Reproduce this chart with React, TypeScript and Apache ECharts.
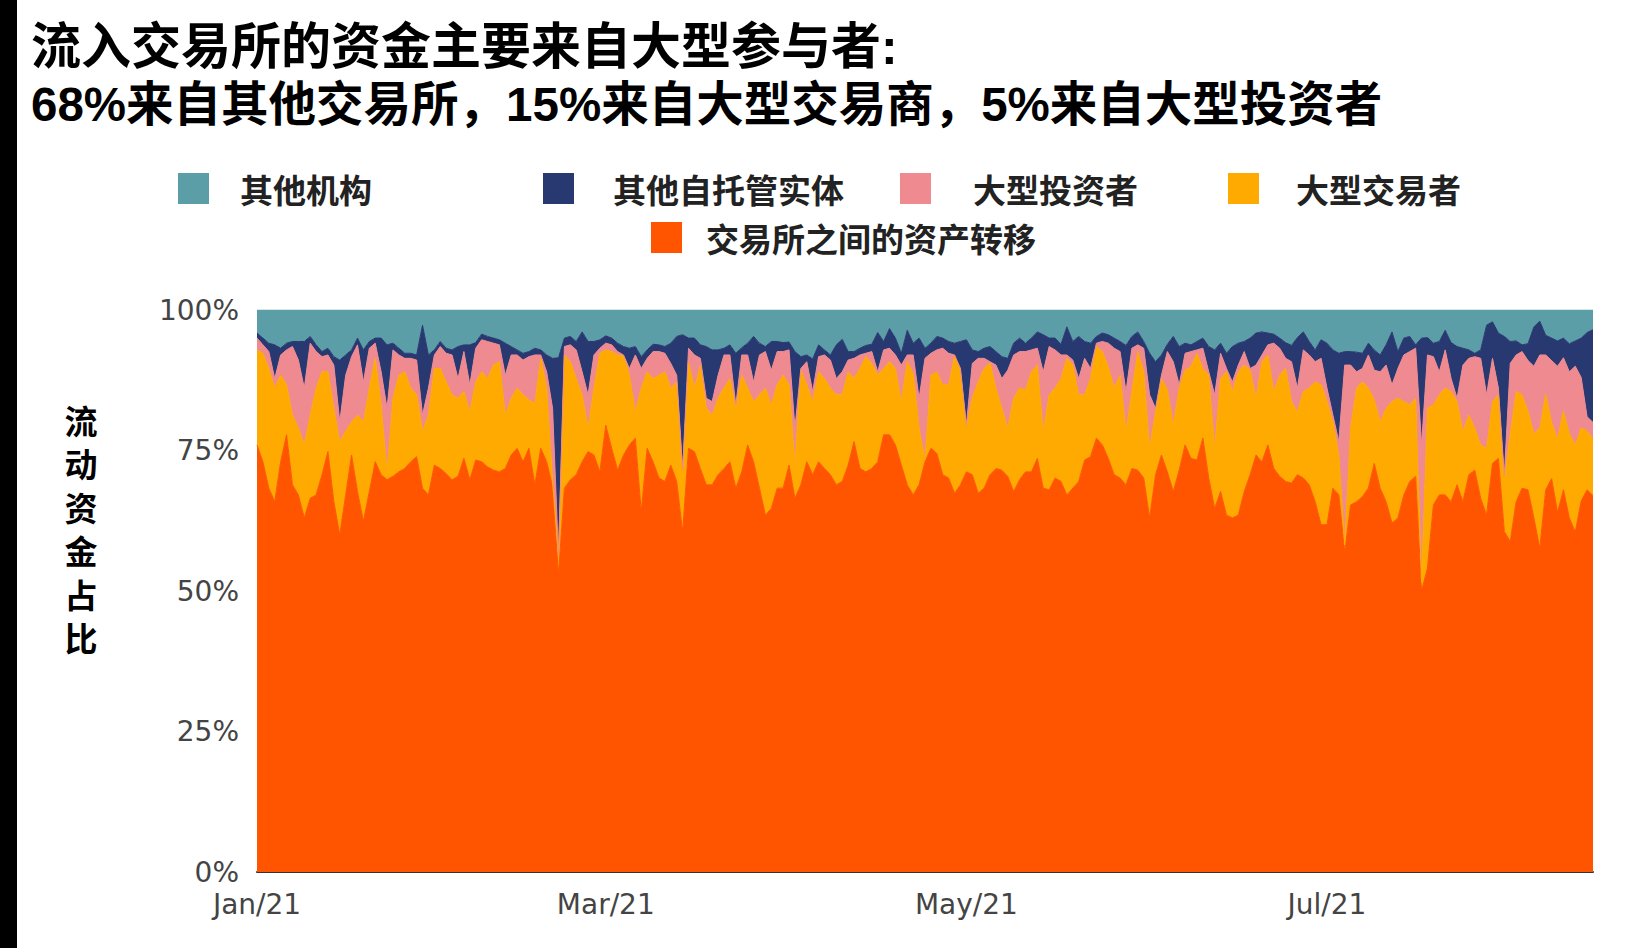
import { useEffect, useRef } from "react";
import * as echarts from "echarts";

// Cumulative tops (percent of daily inflow), Jan 1 2021 onward, one value per day.
// Top of "交易所之间的资产转移" (orange, bottom layer) = its own share
const exchangeShare = [
  76.0, 73.0, 68.3, 65.9, 73.0, 77.8, 68.9, 67.1, 63.0, 66.5,
  67.1, 70.7, 74.8, 65.9, 60.0, 67.1, 74.2, 67.7, 62.4, 67.7,
  73.0, 70.7, 69.8, 70.4, 71.2, 71.8, 73.0, 73.9, 68.3, 67.1,
  72.4, 71.8, 70.9, 69.8, 70.4, 73.6, 69.8, 73.3, 73.0, 72.1,
  71.5, 71.2, 71.8, 74.2, 75.4, 73.0, 75.4, 68.9, 75.4, 73.0,
  68.6, 52.9, 68.3, 69.8, 70.7, 73.0, 74.8, 74.2, 71.2, 79.5,
  75.4, 71.5, 74.2, 76.0, 77.2, 64.1, 75.4, 73.0, 70.1, 69.5,
  72.4, 69.5, 60.5, 75.4, 74.8, 71.8, 68.9, 68.9, 70.7, 71.8,
  73.0, 68.3, 71.2, 76.0, 73.0, 68.3, 63.5, 64.7, 68.3, 68.3,
  72.4, 66.5, 68.9, 73.0, 70.7, 73.0, 71.8, 70.7, 68.9, 69.5,
  72.4, 76.6, 71.8, 71.2, 71.8, 73.0, 77.8, 77.8, 76.0, 72.4,
  68.9, 67.1, 68.9, 73.0, 75.4, 74.5, 70.7, 70.1, 67.4, 68.9,
  71.2, 70.7, 67.4, 68.3, 70.7, 71.8, 71.5, 70.4, 67.7, 69.8,
  71.2, 71.2, 73.6, 68.3, 68.0, 70.1, 69.5, 67.1, 68.3, 69.5,
  73.3, 73.9, 77.2, 76.0, 73.6, 70.7, 70.1, 68.9, 71.8, 71.5,
  70.1, 63.0, 70.7, 74.2, 71.2, 67.7, 71.5, 76.0, 73.6, 73.3,
  77.2, 70.1, 64.7, 67.7, 63.5, 63.0, 63.5, 67.7, 70.7, 74.2,
  73.0, 76.0, 71.8, 70.4, 69.5, 69.2, 70.7, 70.1, 68.9, 65.9,
  61.8, 61.8, 68.3, 67.1, 57.0, 65.3, 65.9, 66.8, 68.3, 72.7,
  68.3, 65.9, 62.1, 63.0, 67.1, 69.5, 70.4, 50.0, 54.1, 65.3,
  67.1, 67.1, 65.9, 68.9, 65.9, 70.7, 71.5, 66.5, 63.5, 72.7,
  73.6, 60.6, 58.8, 65.9, 68.3, 68.0, 63.0, 57.6, 68.0, 70.0,
  64.0, 68.0, 63.0, 60.5, 66.0, 68.0, 67.0,
];

// Top of "大型交易者" (yellow) layer, cumulative
const traderTop = [
  92.9, 92.3, 89.6, 86.1, 88.4, 86.7, 81.3, 79.0, 76.0, 81.3,
  86.1, 89.0, 89.0, 82.5, 76.6, 78.4, 80.1, 81.3, 80.1, 86.1,
  91.4, 83.1, 71.2, 84.3, 88.4, 89.0, 86.1, 84.9, 78.4, 81.3,
  89.6, 89.6, 87.2, 84.9, 84.3, 85.5, 81.9, 87.2, 89.0, 87.8,
  90.2, 90.8, 81.3, 84.3, 86.1, 84.9, 84.0, 83.4, 91.4, 86.1,
  69.5, 56.1, 92.0, 90.8, 87.8, 84.9, 79.0, 86.1, 92.3, 92.9,
  92.6, 92.0, 91.8, 88.4, 81.9, 86.1, 89.0, 87.8, 88.4, 89.0,
  86.1, 87.2, 71.2, 90.8, 86.1, 90.2, 82.5, 81.3, 84.3, 86.1,
  87.8, 82.5, 88.4, 86.1, 83.7, 84.9, 86.1, 83.1, 86.7, 88.4,
  86.7, 72.4, 89.3, 86.7, 83.7, 89.0, 87.8, 86.1, 84.9, 84.9,
  89.0, 87.8, 89.6, 91.7, 90.5, 88.4, 89.6, 90.8, 89.6, 83.7,
  90.8, 88.7, 79.0, 73.3, 88.4, 89.0, 86.7, 86.7, 91.8, 89.0,
  79.3, 84.3, 87.2, 89.6, 90.6, 86.1, 82.5, 79.0, 84.3, 86.1,
  85.8, 89.0, 90.2, 78.4, 84.9, 86.1, 87.8, 91.4, 90.2, 84.9,
  84.9, 87.8, 93.5, 92.6, 89.9, 86.1, 88.4, 78.4, 85.5, 92.6,
  89.0, 75.4, 81.9, 87.8, 85.8, 79.5, 86.1, 89.3, 89.9, 92.3,
  89.6, 88.4, 75.4, 87.8, 89.0, 85.5, 89.0, 90.2, 89.3, 84.3,
  90.8, 92.0, 85.5, 88.4, 89.6, 83.7, 81.9, 85.5, 86.1, 87.2,
  86.7, 83.7, 80.1, 74.2, 58.2, 79.0, 86.1, 87.2, 86.1, 84.0,
  80.1, 82.5, 83.7, 84.3, 83.7, 83.1, 84.3, 51.5, 82.5, 83.1,
  84.9, 86.1, 85.5, 83.7, 78.4, 81.3, 79.0, 76.0, 75.4, 83.7,
  84.9, 69.8, 77.8, 85.5, 84.9, 82.0, 78.0, 79.0, 85.0, 80.0,
  77.0, 82.0, 78.0, 76.0, 79.0, 78.5, 77.0,
];

// Top of "大型投资者" (pink) layer, cumulative
const investorTop = [
  95.0, 93.8, 92.6, 87.8, 92.0, 92.9, 93.5, 91.1, 86.1, 94.1,
  92.6, 91.7, 92.0, 90.2, 80.1, 88.4, 91.7, 93.8, 87.2, 93.2,
  94.1, 89.0, 82.5, 92.9, 92.0, 91.4, 91.4, 91.1, 81.3, 86.1,
  92.0, 93.5, 92.3, 92.0, 87.8, 92.6, 86.7, 93.2, 94.7, 94.4,
  94.1, 93.8, 88.4, 92.0, 92.0, 91.1, 91.7, 92.0, 92.0, 89.0,
  82.5, 56.4, 93.5, 93.8, 92.9, 89.0, 84.9, 92.0, 93.2, 94.1,
  93.8, 92.6, 92.0, 89.6, 92.0, 89.6, 91.4, 92.6, 92.6, 92.3,
  90.5, 88.4, 71.5, 93.2, 92.0, 91.4, 84.3, 83.7, 88.4, 92.0,
  92.0, 83.1, 92.0, 92.0, 87.2, 92.0, 92.6, 89.3, 92.6, 92.6,
  92.9, 79.0, 89.6, 90.8, 85.5, 91.7, 92.0, 91.1, 87.8, 89.0,
  91.1, 91.4, 92.0, 92.3, 92.6, 89.0, 92.9, 93.2, 92.0, 90.2,
  92.0, 92.0, 84.3, 91.4, 92.3, 92.9, 93.2, 92.3, 92.0, 89.6,
  79.5, 90.5, 91.4, 91.4, 90.8, 90.2, 87.8, 89.3, 92.0, 92.6,
  92.6, 92.9, 93.2, 89.0, 93.5, 92.9, 92.0, 92.0, 91.1, 87.8,
  91.4, 89.6, 94.1, 94.4, 94.1, 93.2, 92.6, 85.5, 93.2, 93.8,
  93.2, 84.9, 82.5, 88.4, 92.6, 90.8, 86.7, 92.3, 92.6, 92.9,
  93.2, 89.0, 84.9, 92.3, 89.6, 87.2, 90.2, 92.6, 89.6, 90.2,
  92.0, 93.8, 94.1, 93.2, 91.4, 90.8, 86.1, 92.9, 92.0, 90.8,
  91.4, 86.1, 81.3, 76.6, 90.2, 90.2, 89.0, 89.6, 92.0, 89.3,
  89.0, 90.2, 86.7, 89.6, 92.0, 92.6, 93.2, 76.0, 92.0, 91.7,
  89.0, 92.9, 87.8, 84.3, 90.2, 91.4, 91.7, 91.4, 84.9, 91.4,
  86.1, 70.5, 90.5, 92.0, 92.6, 91.0, 90.0, 92.0, 92.0, 91.0,
  90.0, 91.5, 89.0, 90.0, 88.0, 81.0, 80.0,
];

// Top of "其他自托管实体" (navy) layer, cumulative; "其他机构" fills up to 100%
const custodyTop = [
  95.9, 95.0, 94.1, 93.8, 93.2, 94.1, 94.4, 94.4, 94.4, 95.3,
  93.8, 92.6, 93.2, 91.7, 91.1, 92.0, 92.9, 95.0, 92.9, 94.4,
  95.0, 95.0, 93.8, 94.1, 93.2, 92.3, 92.3, 92.0, 97.3, 92.0,
  92.9, 94.4, 93.2, 92.9, 93.5, 93.8, 93.8, 94.2, 95.7, 95.3,
  95.0, 94.7, 94.1, 93.5, 92.9, 92.3, 92.6, 93.2, 92.9, 92.0,
  91.4, 91.5, 95.0, 95.3, 94.4, 96.1, 94.4, 94.4, 94.7, 95.4,
  95.0, 94.1, 93.5, 93.2, 93.5, 91.7, 92.9, 93.9, 93.8, 93.5,
  94.1, 95.3, 95.6, 95.0, 95.0, 93.8, 93.5, 92.9, 92.9, 93.2,
  93.8, 92.3, 93.3, 94.1, 95.3, 94.1, 93.5, 94.4, 94.4, 94.2,
  94.3, 92.6, 91.7, 92.0, 91.3, 93.8, 92.9, 92.0, 93.8, 94.8,
  92.6, 92.6, 93.2, 93.7, 93.9, 96.0, 94.4, 96.7, 95.0, 92.3,
  96.4, 94.1, 95.0, 93.2, 94.1, 95.3, 95.0, 94.4, 94.1, 94.4,
  94.7, 92.9, 92.6, 93.2, 93.5, 92.6, 91.7, 91.4, 94.1, 95.0,
  94.1, 95.0, 96.1, 95.6, 95.0, 95.0, 93.9, 97.0, 94.4, 95.3,
  94.4, 94.1, 95.3, 95.9, 95.6, 95.0, 94.4, 93.7, 95.3, 96.1,
  94.4, 92.3, 90.8, 92.0, 93.9, 95.3, 93.5, 94.1, 93.8, 94.4,
  95.0, 93.5, 92.9, 94.1, 92.3, 93.5, 94.1, 94.4, 95.0, 95.9,
  96.1, 95.9, 95.7, 95.0, 94.2, 93.7, 95.1, 96.1, 94.4, 92.9,
  94.7, 94.1, 92.9, 92.3, 92.6, 92.6, 92.5, 92.3, 94.1, 92.9,
  92.0, 93.8, 96.1, 92.6, 95.0, 95.3, 93.8, 95.0, 95.1, 94.1,
  94.4, 96.4, 94.2, 93.5, 93.2, 92.9, 92.3, 92.9, 97.3, 97.9,
  95.9, 95.3, 94.4, 94.5, 93.8, 94.0, 97.0, 98.0, 95.5, 95.0,
  94.5, 95.0, 94.0, 94.5, 95.0, 96.0, 96.5,
];

const seriesNames = ["交易所之间的资产转移", "大型交易者", "大型投资者", "其他自托管实体", "其他机构"];
const seriesColors = ["#ff5500", "#feaa00", "#ef8a90", "#283870", "#5c9ea7"];

const startYear = 2021;
const monthTickLabels: Record<string, string> = {
  "2021-01-01": "Jan/21",
  "2021-03-01": "Mar/21",
  "2021-05-01": "May/21",
  "2021-07-01": "Jul/21",
};
const yTickStep = 25;

const titleLines = [
  "流入交易所的资金主要来自大型参与者:",
  "68%来自其他交易所，15%来自大型交易商，5%来自大型投资者",
];
const yAxisTitle = "流动资金占比";

const CJK = "'Noto Sans CJK SC', 'Noto Sans', sans-serif";
const MIXED = "'Liberation Sans', 'Noto Sans CJK SC', sans-serif";
const LATIN = "'DejaVu Sans', 'Liberation Sans', sans-serif";

export default function App() {
  const ref = useRef<HTMLDivElement>(null);

  useEffect(() => {
    if (!ref.current) return;
    const chart = echarts.init(ref.current, null, { renderer: "svg" });

    const n = exchangeShare.length;
    const dates: string[] = [];
    for (let i = 0; i < n; i++) {
      dates.push(new Date(Date.UTC(startYear, 0, 1 + i)).toISOString().slice(0, 10));
    }

    const r = (v: number) => Math.round(Math.max(0, v) * 10) / 10;
    const shares = [
      exchangeShare.map((v) => r(v)),
      traderTop.map((v, i) => r(v - exchangeShare[i])),
      investorTop.map((v, i) => r(v - traderTop[i])),
      custodyTop.map((v, i) => r(v - investorTop[i])),
      custodyTop.map((v) => r(100 - v)),
    ];

    const legendPos = [
      { name: "其他机构", left: 178, top: 172, gap: 26 },
      { name: "其他自托管实体", left: 543, top: 172, gap: 34 },
      { name: "大型投资者", left: 900, top: 172, gap: 37 },
      { name: "大型交易者", left: 1228, top: 172, gap: 32 },
      { name: "交易所之间的资产转移", left: 651, top: 221, gap: 19 },
    ];

    const titleStyle = [
      { top: 19, fontSize: 50 },
      { top: 76, fontSize: 47.5 },
    ];

    const axisTitleChars = yAxisTitle.split("");

    chart.setOption({
      animation: false,
      backgroundColor: "#ffffff",
      title: titleLines.map((t, i) => ({
        text: t,
        left: 31,
        top: titleStyle[i].top,
        padding: 0,
        textStyle: {
          fontSize: titleStyle[i].fontSize,
          fontWeight: "bold",
          color: "#000",
          fontFamily: MIXED,
          lineHeight: 56,
        },
      })),
      legend: legendPos.map((p) => ({
        data: [p.name],
        left: p.left,
        top: p.top,
        padding: 0,
        itemWidth: 31,
        itemHeight: 31,
        icon: "rect",
        selectedMode: false,
        textStyle: {
          fontSize: 33,
          fontWeight: "bold",
          color: "#222",
          fontFamily: CJK,
          padding: [0, 0, 0, p.gap],
        },
      })),
      grid: { left: 257, right: 54, top: 310, bottom: 76, containLabel: false },
      xAxis: {
        type: "category",
        data: dates,
        boundaryGap: false,
        axisTick: { show: false },
        axisLine: { show: true, lineStyle: { color: "#333", width: 2 } },
        splitLine: { show: false },
        axisLabel: {
          interval: (_i: number, v: string) => v in monthTickLabels,
          formatter: (v: string) => monthTickLabels[v] || "",
          fontSize: 28,
          color: "#444",
          fontFamily: LATIN,
          margin: 18,
        },
      },
      yAxis: {
        type: "value",
        min: 0,
        max: 100,
        interval: yTickStep,
        axisLine: { show: false },
        axisTick: { show: false },
        splitLine: { show: false },
        axisLabel: {
          formatter: "{value}%",
          fontSize: 28,
          color: "#444",
          fontFamily: LATIN,
          margin: 18,
        },
      },
      graphic: [
        { type: "rect", shape: { x: 0, y: 0, width: 17, height: 948 }, style: { fill: "#000" }, silent: true },
        ...axisTitleChars.map((ch, i) => ({
          type: "text",
          x: 81,
          y: 422 + i * 43.5,
          style: {
            text: ch,
            fontSize: 33,
            fontWeight: "bold",
            fontFamily: MIXED,
            fill: "#000",
            align: "center",
            verticalAlign: "middle",
          },
        })),
      ],
      series: seriesNames.map((name, k) => ({
        name,
        type: "line",
        stack: "total",
        data: shares[k],
        symbol: "none",
        showSymbol: false,
        smooth: false,
        itemStyle: { color: seriesColors[k] },
        lineStyle: { width: 1, color: seriesColors[k] },
        areaStyle: { color: seriesColors[k], opacity: 1 },
        emphasis: { disabled: true },
        z: 2,
      })),
    });

    return () => chart.dispose();
  }, []);

  return (
    <div
      ref={ref}
      style={{ position: "fixed", left: 0, top: 0, width: 1647, height: 948, background: "#fff" }}
    />
  );
}
